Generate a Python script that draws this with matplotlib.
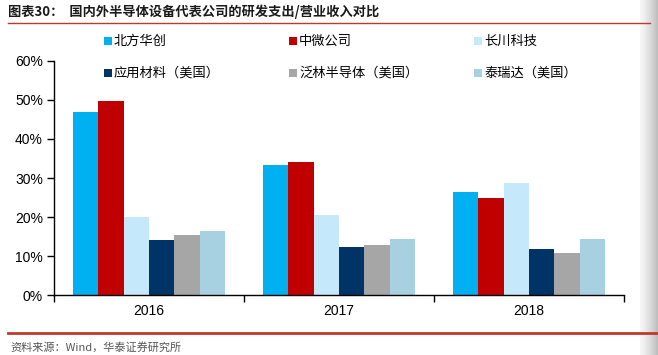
import matplotlib
matplotlib.use("Agg")
import matplotlib.pyplot as plt
import numpy as np
from matplotlib.lines import Line2D
from matplotlib.patches import Rectangle

plt.rcParams['font.family'] = ['Liberation Sans', 'Noto Sans CJK SC', 'DejaVu Sans']

years = ['2016', '2017', '2018']
companies = ['北方华创', '中微公司', '长川科技', '应用材料（美国）', '泛林半导体（美国）', '泰瑞达（美国）']
values = {
    '北方华创': [46.9, 33.3, 26.3],
    '中微公司': [49.7, 34.1, 24.8],
    '长川科技': [20.0, 20.5, 28.7],
    '应用材料（美国）': [14.1, 12.3, 11.8],
    '泛林半导体（美国）': [15.4, 12.9, 10.8],
    '泰瑞达（美国）': [16.5, 14.3, 14.4],
}
colors = ['#00B0F0', '#C00000', '#C5E9FA', '#003366', '#A6A6A6', '#A7D0E0']
yticks = [0, 10, 20, 30, 40, 50, 60]
title = '图表30：  国内外半导体设备代表公司的研发支出/营业收入对比'
source = '资料来源：Wind，华泰证券研究所'

W, H = 658, 355
fig = plt.figure(figsize=(W / 100, H / 100), dpi=100)
fig.patch.set_facecolor('white')

ax = fig.add_axes([54 / W, 1 - 295.3 / H, (624 - 54) / W, (295.3 - 60.7) / H])
x = np.arange(len(years))
bw = 0.8 / len(companies)
for i, (c, col) in enumerate(zip(companies, colors)):
    ax.bar(x - 0.4 + bw * (i + 0.5), values[c], width=bw, color=col, edgecolor='none', zorder=2)

ax.set_xlim(-0.5, len(years) - 0.5)
ax.set_ylim(0, 60)
ax.set_yticks(yticks)
ax.set_yticklabels([f'{v}%' for v in yticks], fontsize=10, color='#000000')
ax.set_xticks(x)
ax.set_xticklabels(years, fontsize=10)
ax.set_xticks(np.arange(-0.5, len(years)), minor=True)
ax.tick_params(axis='x', which='major', length=0, pad=6)
ax.tick_params(axis='x', which='minor', length=5, width=1, direction='out')
ax.tick_params(axis='y', length=5, width=1, direction='out', pad=3)
for s in ['top', 'right']:
    ax.spines[s].set_visible(False)
for s in ['left', 'bottom']:
    ax.spines[s].set_color('black')
    ax.spines[s].set_linewidth(1)

# legend (manual, row-major, 3 columns)
col_x = [104, 289, 474]
row_y = [41, 73]
for i, (c, col) in enumerate(zip(companies, colors)):
    px = col_x[i % 3]
    py = row_y[i // 3]
    fig.add_artist(Rectangle((px / W, 1 - (py + 4) / H), 8 / W, 8 / H,
                             facecolor=col, edgecolor='none', transform=fig.transFigure))
    fig.text((px + 10) / W, 1 - py / H, c, fontsize=9.5, family=['Noto Sans CJK SC'],
             va='center', ha='left', color='#000000')

# title and lines
fig.text(8 / W, 1 - 12 / H, title, fontsize=9.5, fontweight='bold',
         family=['Noto Sans CJK SC'], va='center', ha='left', color='#1a1a1a')
fig.add_artist(Line2D([8 / W, 650 / W], [1 - 22.5 / H, 1 - 22.5 / H],
                      color='#B83A30', linewidth=1.0))
fig.add_artist(Line2D([8 / W, 1.0], [1 - 333 / H, 1 - 333 / H],
                      color='#C0392B', linewidth=2.0))
fig.text(10 / W, 1 - 347 / H, source, fontsize=8, family=['Noto Sans CJK SC', 'Liberation Sans'],
         va='center', ha='left', color='#555555')

# gray gradient on right edge
grad = np.linspace(0, 1, 50)[None, :]
gax = fig.add_axes([640 / W, 0, 18 / W, 1])
gax.imshow(grad, aspect='auto', cmap='Greys', vmin=-0.2, vmax=3.0, extent=[0, 1, 0, 1])
gax.axis('off')

fig.savefig('out.png', dpi=100, facecolor='white')
